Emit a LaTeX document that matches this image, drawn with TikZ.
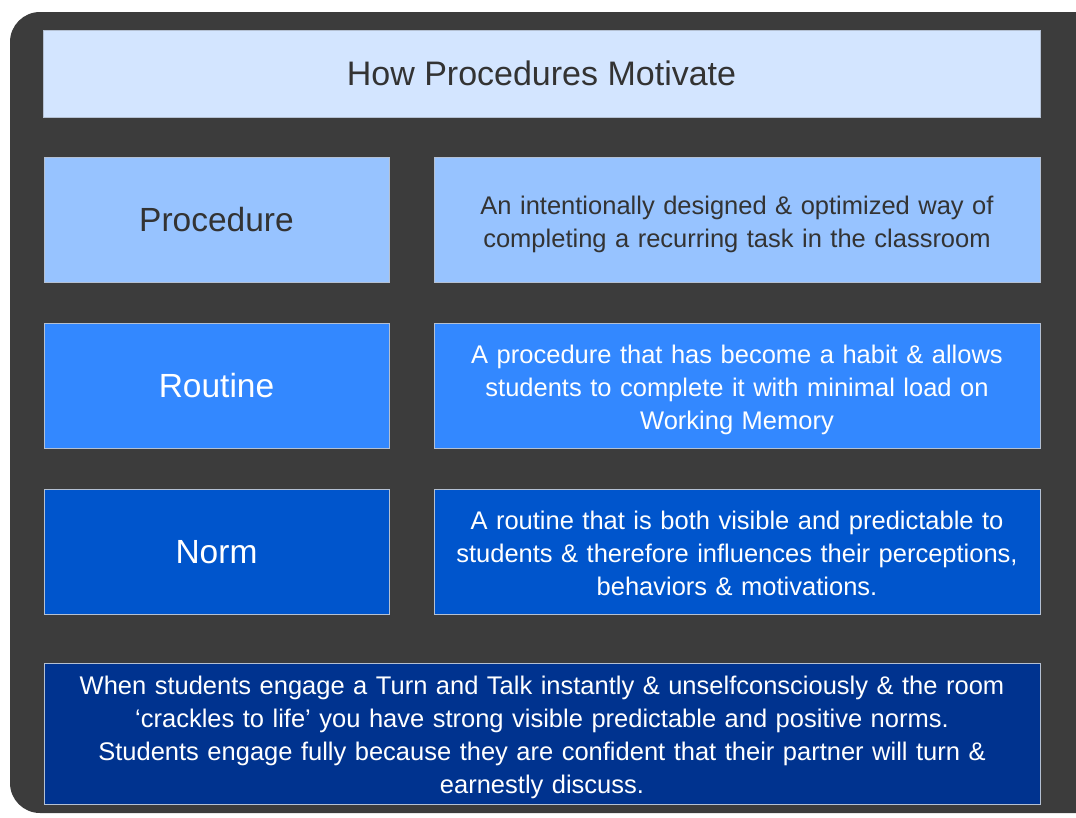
\documentclass[tikz,border=0pt]{standalone}
\usepackage{fontspec}
\setmainfont{Liberation Sans}
\usepackage{tikz}
\usetikzlibrary{positioning}
\definecolor{framegray}{HTML}{3C3C3C}
\definecolor{boxline}{HTML}{B4C0D2}
\definecolor{titleblue}{HTML}{D3E5FF}
\definecolor{paleblue}{HTML}{97C3FF}
\definecolor{midblue}{HTML}{3388FF}
\definecolor{deepblue}{HTML}{0055CC}
\definecolor{navyblue}{HTML}{00338F}
\definecolor{darktext}{HTML}{333333}
\newcommand{\labelsize}{\fontsize{33.5}{40}\selectfont}
\newcommand{\descsize}{\fontsize{25.5}{33}\selectfont}
% struts that push the text a little below the middle
\newcommand{\lead}{\rule{0pt}{27pt}}
\newcommand{\tail}{\rule[-6pt]{0pt}{6pt}}
\tikzset{
  box/.style={draw=boxline, line width=1pt, inner sep=0pt, align=center},
  termbox/.style={box, minimum width=345pt, minimum height=125pt, font=\labelsize},
  defbox/.style={box, minimum width=606pt, minimum height=125pt, text width=600pt, font=\descsize}
}

\begin{document}
\begin{tikzpicture}[x=1pt, y=-1pt]
    \useasboundingbox (0,0) rectangle (1076,817);
    \clip (0,0) rectangle (1076,817);
    \fill[framegray, rounded corners=30pt] (10,12) rectangle (1110,813);

    % heading
    \node[box, fill=titleblue, text=darktext, font=\fontsize{34}{40}\selectfont, minimum width=997pt, minimum height=87pt] (title) at (541.5,73.5) {How Procedures Motivate};

    % the three terms and what they mean
    \node[termbox, fill=paleblue, text=darktext] (proc) at (216.5,220) {Procedure};
    \node[defbox, fill=paleblue, text=darktext, right=44pt of proc] (procdef) {\lead An intentionally designed \& optimized way of\\completing a recurring task in the classroom\tail};

    \node[termbox, fill=midblue, text=white] (rout) at (216.5,385.5) {Routine};
    \node[defbox, fill=midblue, text=white, right=44pt of rout] (routdef) {\lead A procedure that has become a habit \& allows\\students to complete it with minimal load on\\Working Memory\tail};

    \node[termbox, fill=deepblue, text=white] (norm) at (216.5,552) {Norm};
    \node[defbox, fill=deepblue, text=white, right=44pt of norm] (normdef) {\lead A routine that is both visible and predictable to\\students \& therefore influences their perceptions,\\behaviors \& motivations.\tail};

    % example at the bottom
    \node[box, fill=navyblue, text=white, font=\descsize, minimum width=996pt, minimum height=141pt, text width=990pt] (example) at (542,733.5) {\lead When students engage a Turn and Talk instantly \& unselfconsciously \& the room\\`crackles to life' you have strong visible predictable and positive norms.\\Students engage fully because they are confident that their partner will turn \&\\earnestly discuss.\tail};
\end{tikzpicture}
\end{document}
